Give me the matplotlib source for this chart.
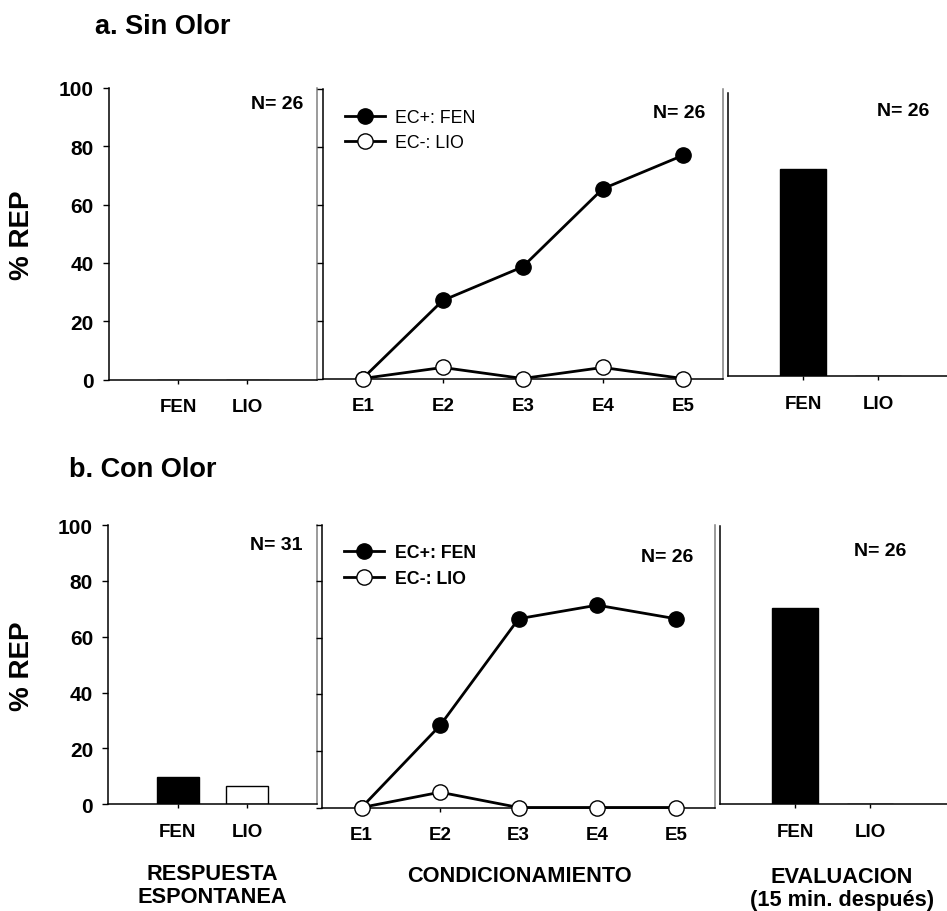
import matplotlib
matplotlib.use("Agg")
import matplotlib.pyplot as plt

plt.rcParams['font.family'] = ['Liberation Sans', 'DejaVu Sans']
plt.rcParams['font.weight'] = 'bold'

W, H = 947, 912

sesiones = ["E1", "E2", "E3", "E4", "E5"]
estimulos = ["FEN", "LIO"]
etiquetas_leyenda = ["EC+: FEN", "EC-: LIO"]

# a. Sin Olor
sin_espontanea = [0, 0]
sin_fen = [0, 26.9, 38.5, 65.4, 76.9]
sin_lio = [0, 3.8, 0, 3.8, 0]
sin_evaluacion = [73.1, 0]
sin_n = ["N= 26", "N= 26", "N= 26"]

# b. Con Olor
con_espontanea = [9.7, 6.5]
con_fen = [0, 29.0, 66.7, 71.5, 66.7]
con_lio = [0, 5.4, 0, 0, 0]
con_evaluacion = [70.5, 0]
con_n = ["N= 31", "N= 26", "N= 26"]

GRIS = '#808080'


def caja(x0, y0, x1, y1):
    # pixel box -> figure fraction rect
    return [x0 / W, 1 - y1 / H, (x1 - x0) / W, (y1 - y0) / H]


def texto(x, y, s, **kw):
    fig.text(x / W, 1 - y / H, s, **kw)


def estilo(ax):
    ax.spines['top'].set_visible(False)
    for sp in ax.spines.values():
        sp.set_linewidth(1.1)
    ax.set_ylim(0, 100)
    ax.tick_params(axis='x', direction='out', length=3, width=1, pad=10.5,
                   labelsize=13.5)
    ax.tick_params(axis='y', direction='out', length=4, width=1)


def barras(ax, valores, ancho_lim):
    pos = [1, 2]
    ax.bar(pos, valores, width=0.61, color=['black', 'white'],
           edgecolor='black', linewidth=1)
    ax.set_xlim(0, ancho_lim)
    ax.set_xticks(pos)
    ax.set_xticklabels(estimulos, fontweight='bold')


def lineas(ax, fen, lio, leyenda_bold):
    x = list(range(1, len(sesiones) + 1))
    ax.plot(x, fen, color='black', lw=2, marker='o', ms=11,
            mfc='black', mec='black', label=etiquetas_leyenda[0], zorder=3)
    ax.plot(x, lio, color='black', lw=2, marker='o', ms=11,
            mfc='white', mec='black', mew=1, label=etiquetas_leyenda[1],
            zorder=4, clip_on=False)
    ax.set_xlim(0.5, 5.5)
    ax.set_xticks(x)
    ax.set_xticklabels(sesiones, fontweight='bold')
    ax.set_yticks(range(0, 101, 20))
    ax.set_yticklabels([])
    ax.spines['right'].set_color(GRIS)
    leg = ax.legend(loc='upper left', bbox_to_anchor=(0.055, 0.93),
                    frameon=False, borderaxespad=0, borderpad=0,
                    handlelength=2.25, handletextpad=0.6, labelspacing=0.48,
                    prop={'size': 12.8,
                          'weight': 'bold' if leyenda_bold else 'normal'})
    return leg


def fila(cajas, espontanea, fen, lio, evaluacion, leyenda_bold, lim_der):
    a1 = fig.add_axes(caja(*cajas[0]))
    a2 = fig.add_axes(caja(*cajas[1]))
    a3 = fig.add_axes(caja(*cajas[2]))
    for ax in (a1, a2, a3):
        estilo(ax)

    barras(a1, espontanea, 3)
    a1.set_yticks(range(0, 101, 20))
    a1.tick_params(axis='y', labelsize=15, pad=7)
    a1.spines['right'].set_color(GRIS)

    lineas(a2, fen, lio, leyenda_bold)

    barras(a3, evaluacion, lim_der)
    a3.spines['right'].set_visible(False)
    a3.tick_params(axis='y', left=False, labelleft=False)
    return a1, a2, a3


fig = plt.figure(figsize=(W / 100, H / 100), dpi=100)

# fila a
fila([(109, 89, 316.7, 380.5), (322.7, 89.5, 722.7, 379.5),
      (728.3, 94, 947, 377)],
     sin_espontanea, sin_fen, sin_lio, sin_evaluacion, False,
     (947 - 728.3) / 75)
# fila b
fila([(108.3, 526, 316.7, 805.3), (322.3, 525.5, 715, 808.5),
      (720, 527, 947, 805.3)],
     con_espontanea, con_fen, con_lio, con_evaluacion, True,
     (947 - 720) / 75)

texto(95, 27, "a. Sin Olor", fontsize=19.5, fontweight='bold', va='center')
texto(69, 470, "b. Con Olor", fontsize=19.5, fontweight='bold', va='center')

texto(22, 235, "% REP", fontsize=20, fontweight='bold', rotation=90,
      ha='center', va='center')
texto(22, 666, "% REP", fontsize=20, fontweight='bold', rotation=90,
      ha='center', va='center')

# etiquetas N
for (x, y), s in zip([(303, 105), (705, 113), (929, 111)], sin_n):
    texto(x, y, s, fontsize=14, fontweight='bold', ha='right', va='center')
for (x, y), s in zip([(302, 546), (693, 557), (906, 552)], con_n):
    texto(x, y, s, fontsize=14, fontweight='bold', ha='right', va='center')

# nombres de fase
texto(212.5, 886, "RESPUESTA\nESPONTANEA", fontsize=15.7, fontweight='bold',
      ha='center', va='center', linespacing=1.12)
texto(519, 877, "CONDICIONAMIENTO", fontsize=15.7, fontweight='bold',
      ha='center', va='center')
texto(842, 889, "EVALUACION\n(15 min. después)", fontsize=15.7,
      fontweight='bold', ha='center', va='center', linespacing=1.12)

fig.savefig("out.png", dpi=100)
